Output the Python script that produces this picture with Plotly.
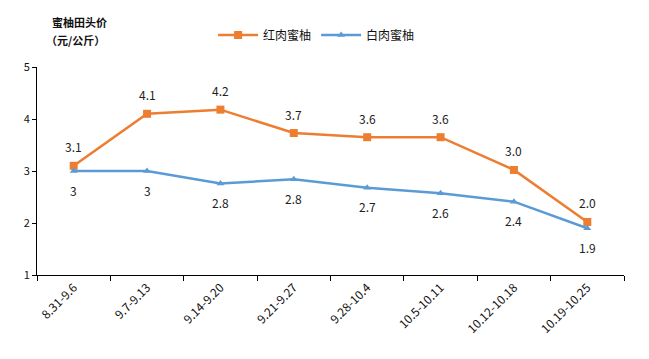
import plotly.graph_objects as go

categories = ["8.31-9.6", "9.7-9.13", "9.14-9.20", "9.21-9.27", "9.28-10.4",
              "10.5-10.11", "10.12-10.18", "10.19-10.25"]
red_values = [3.1, 4.1, 4.18, 3.73, 3.65, 3.65, 3.02, 2.02]
red_labels = ["3.1", "4.1", "4.2", "3.7", "3.6", "3.6", "3.0", "2.0"]
white_values = [3.0, 3.0, 2.76, 2.84, 2.68, 2.57, 2.41, 1.9]
white_labels = ["3", "3", "2.8", "2.8", "2.7", "2.6", "2.4", "1.9"]
y_ticks = [1, 2, 3, 4, 5]

FONT = "Noto Sans CJK SC"
ORANGE = "#ED7D31"
BLUE = "#5B9BD5"

# page body has an 8px default margin; size the figure so the plot area lands right
W, H = 641, 351
ML, MR, MT, MB = 29, 25, 59, 84
PLOT_H = H - MT - MB

fig = go.Figure()
fig.add_trace(go.Scatter(
    x=categories, y=red_values, name="红肉蜜柚", mode="lines+markers",
    line=dict(color=ORANGE, width=2.5),
    marker=dict(symbol="square", size=8, color=ORANGE),
))
fig.add_trace(go.Scatter(
    x=categories, y=white_values, name="白肉蜜柚", mode="lines+markers",
    line=dict(color=BLUE, width=2.5),
    marker=dict(symbol="triangle-up", size=7, color=BLUE),
))

annotations = []
for c, v, t in zip(categories, red_values, red_labels):
    annotations.append(dict(x=c, y=v, text=t, showarrow=False, yshift=19,
                            font=dict(family=FONT, size=12, color="#222")))
for c, v, t in zip(categories, white_values, white_labels):
    annotations.append(dict(x=c, y=v, text=t, showarrow=False, yshift=-19,
                            font=dict(family=FONT, size=12, color="#222")))
annotations.append(dict(
    xref="paper", yref="paper", x=0.022, y=1 + (67 - 22) / PLOT_H,
    xanchor="left", yanchor="middle",
    text="<b>蜜柚田头价</b>", showarrow=False,
    font=dict(family=FONT, size=11, color="#111"),
))
annotations.append(dict(
    xref="paper", yref="paper", x=0.012, y=1 + (67 - 40) / PLOT_H,
    xanchor="left", yanchor="middle",
    text="<b>（元/公斤）</b>", showarrow=False,
    font=dict(family=FONT, size=11, color="#111"),
))

fig.update_layout(
    width=W, height=H,
    margin=dict(l=ML, r=MR, t=MT, b=MB, autoexpand=False),
    paper_bgcolor="white", plot_bgcolor="white",
    font=dict(family=FONT, size=11, color="#111"),
    showlegend=True,
    legend=dict(orientation="h", x=0.3, y=1 - 27 / H, yref="container",
                xanchor="left", yanchor="middle",
                font=dict(family=FONT, size=12, color="#111"),
                itemwidth=40, tracegroupgap=0, bgcolor="rgba(0,0,0,0)"),
    annotations=annotations,
    xaxis=dict(type="category", tickson="boundaries", ticks="outside", ticklen=5,
               tickcolor="#000", showline=True, linecolor="#000", linewidth=1,
               showgrid=False, tickangle=-45, automargin=False,
               tickfont=dict(family=FONT, size=12, color="#111"),
               range=[-0.5, 7.5]),
    yaxis=dict(range=[1, 5], tickvals=y_ticks, ticks="outside", ticklen=4,
               tickcolor="#000", showline=True, linecolor="#000", linewidth=1,
               showgrid=False, zeroline=False, automargin=False,
               tickfont=dict(family=FONT, size=11, color="#111")),
)

fig.write_html("out.html")
